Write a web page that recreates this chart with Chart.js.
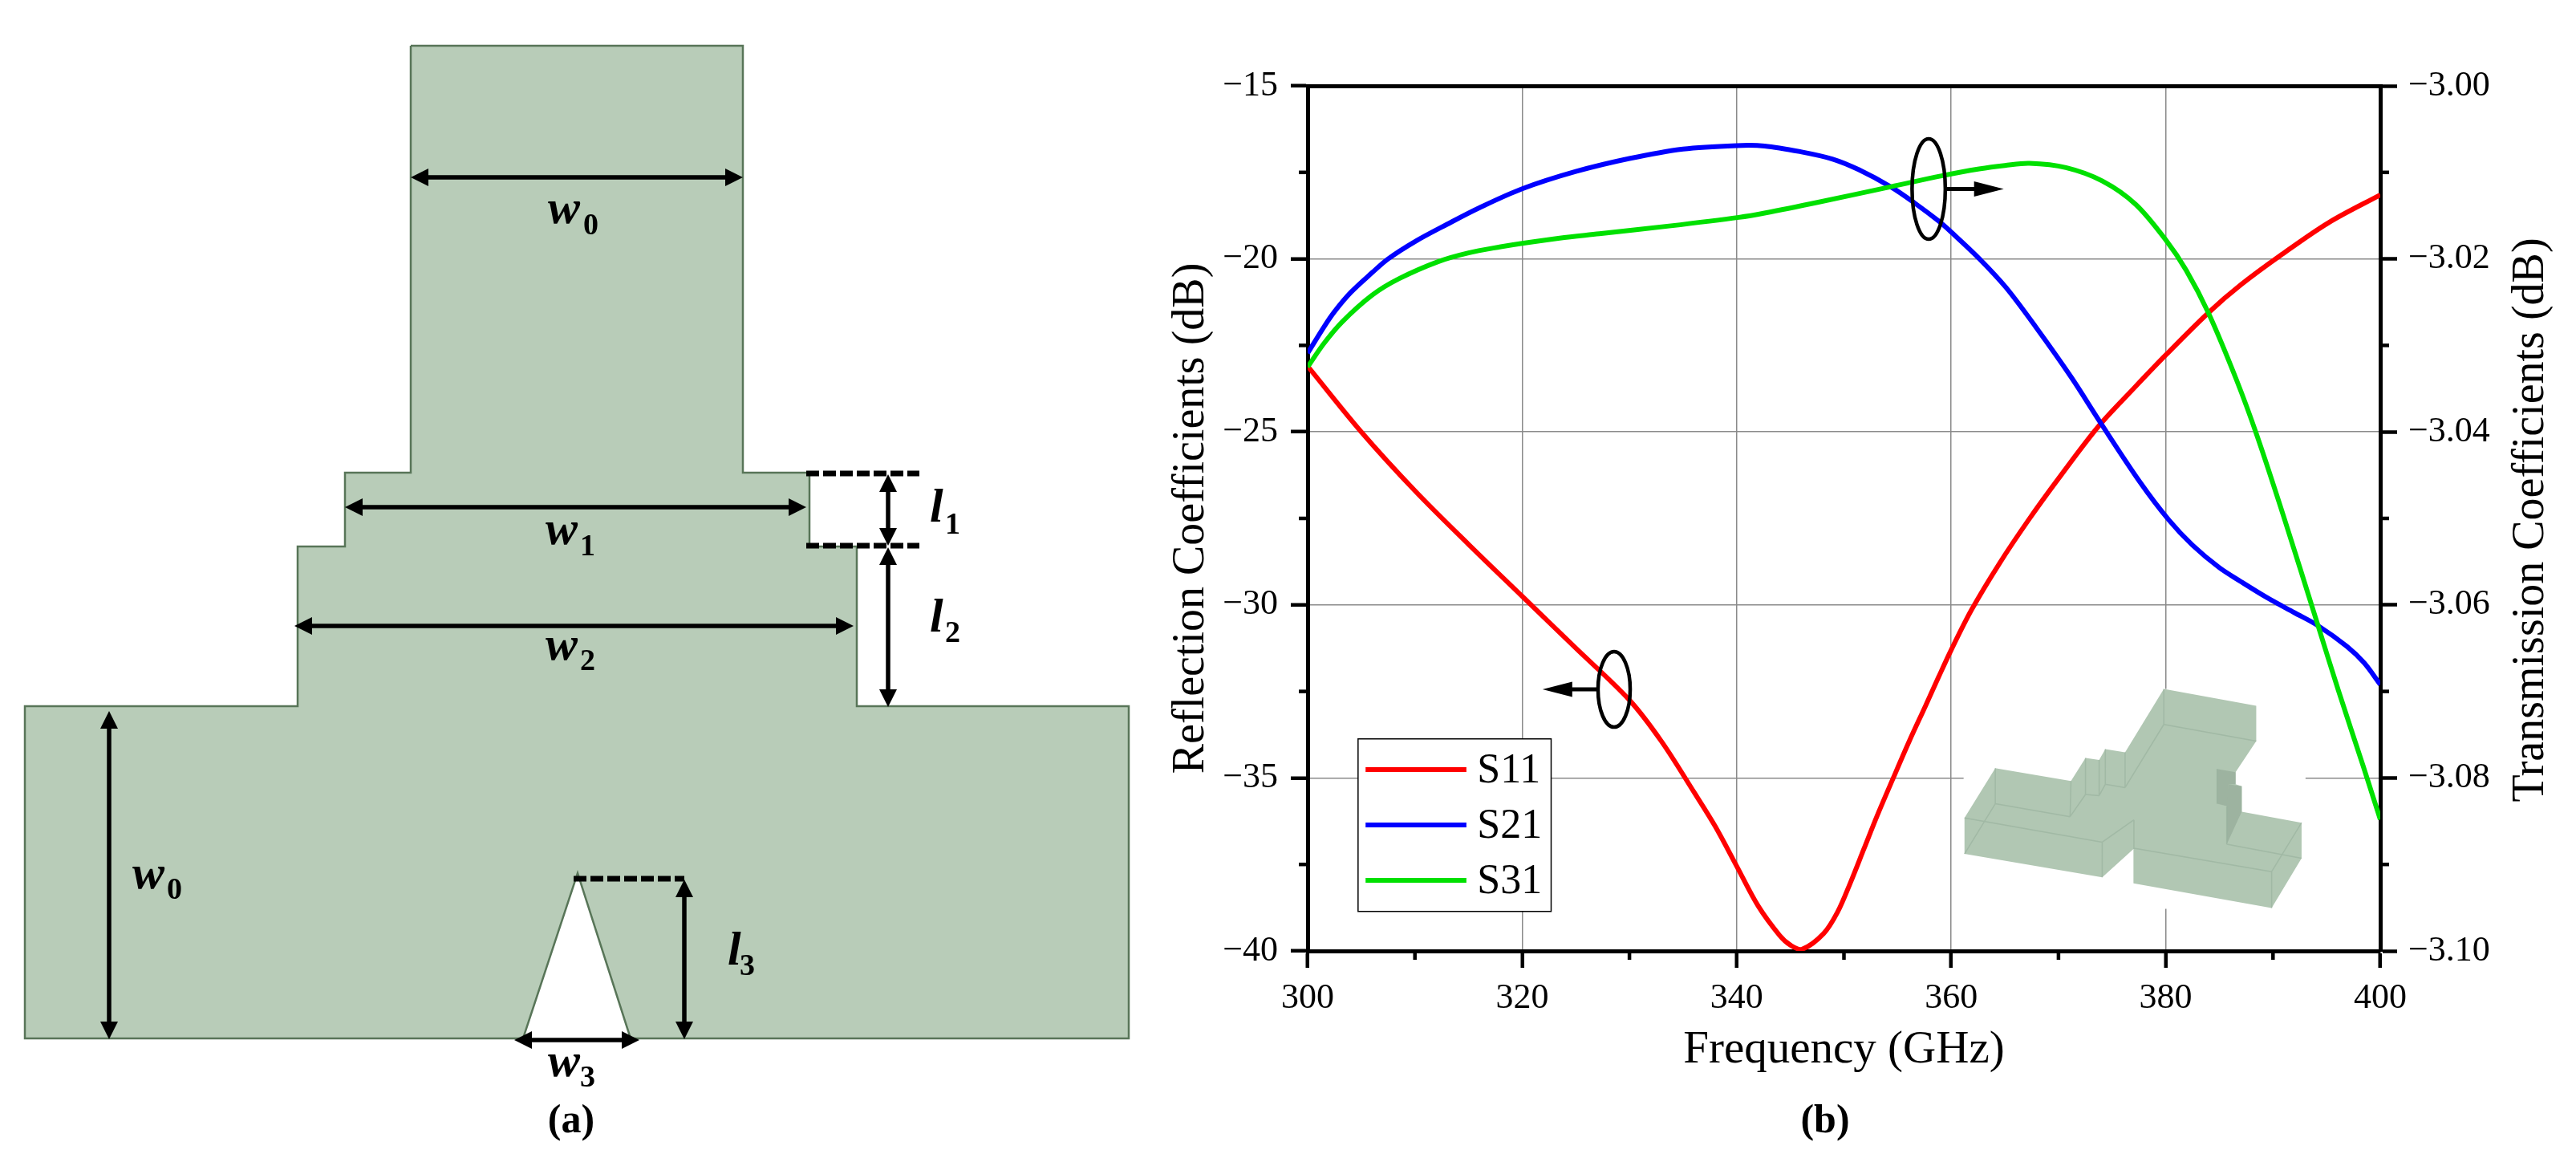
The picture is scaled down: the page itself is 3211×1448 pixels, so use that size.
<!DOCTYPE html>
<html lang="en">
<head>
  <meta charset="UTF-8">
  <title>Reflection and transmission coefficients</title>
  <script src="https://cdn.jsdelivr.net/npm/chart.js"></script>
  <style>
    body { margin: 0; background: #fff; width: 3211px; height: 1448px; overflow: hidden; }
    canvas { position: absolute; top: 0; }
    #diagram { left: 0; }
    #plot { left: 1440px; }
  </style>
</head>
<body>
  <canvas id="diagram" width="1440" height="1448"></canvas>
  <canvas id="plot" width="1771" height="1448"></canvas>

  <script>
    // values
    const freqS11 = [300, 305, 310, 315, 320, 325, 330, 333, 336, 338, 340, 342, 344, 345, 346.1, 348.1, 349.4, 350.6, 351.85, 353.1, 354.6, 356.1, 357.6, 358.8, 360, 361.9, 364.5, 367.2, 370, 373.7, 377, 380, 384, 387, 390.7, 395.2, 400];
    const s11 = [-23.1, -25.0, -26.7, -28.25, -29.75, -31.25, -32.75, -33.95, -35.4, -36.4, -37.55, -38.7, -39.55, -39.83, -39.95, -39.5, -38.88, -38.03, -37.06, -36.09, -35.0, -33.93, -32.92, -32.1, -31.3, -30.14, -28.8, -27.55, -26.35, -24.85, -23.75, -22.78, -21.55, -20.75, -19.9, -18.95, -18.15];

    const freqS21 = [300, 301.5, 302.5, 304, 306, 307.5, 310, 313, 316, 320, 325, 330, 335, 340, 342.6, 345.9, 348.9, 351.4, 354.4, 356.6, 358.8, 360, 362.6, 365.1, 367.9, 371.2, 373.9, 377.6, 380.3, 382.5, 385, 387, 389.5, 392, 394.2, 396.9, 398.5, 400];
    const s21 = [-3.0309, -3.0279, -3.0261, -3.0239, -3.0216, -3.02, -3.018, -3.016, -3.0141, -3.0119, -3.0099, -3.0084, -3.0073, -3.0069, -3.00695, -3.0076, -3.00845, -3.0097, -3.0117, -3.01355, -3.0156, -3.0169, -3.01995, -3.0233, -3.0279, -3.0337, -3.0389, -3.0458, -3.0502, -3.0531, -3.0557, -3.0573, -3.0592, -3.0609, -3.0624, -3.0648, -3.0667, -3.0692];

    const freqS31 = [300, 301.5, 303.2, 306, 308.5, 312.2, 315, 318, 320, 323.5, 327.2, 333.7, 340.2, 342.6, 347.6, 354.4, 359.1, 362.6, 365, 367.3, 370.7, 374.1, 377.2, 380, 381.9, 384, 386.6, 388.5, 391, 394.2, 396.1, 398.4, 400];
    const s31 = [-3.0325, -3.0298, -3.0273, -3.0242, -3.0223, -3.0203, -3.0193, -3.0186, -3.0182, -3.0176, -3.0171, -3.0162, -3.0152, -3.0147, -3.01345, -3.01165, -3.0104, -3.0096, -3.0092, -3.00895, -3.00945, -3.011, -3.0137, -3.0178, -3.0213, -3.0263, -3.034, -3.0404, -3.0498, -3.0624, -3.0699, -3.0786, -3.0848];

    const seriesNames = ['S11', 'S21', 'S31'];
    const seriesColors = ['#ff0000', '#0000ff', '#00e000'];
    const xTitle = 'Frequency (GHz)';
    const yTitle = 'Reflection Coefficients (dB)';
    const y2Title = 'Transmission Coefficients (dB)';

    // panel (a) outline, in drawing units
    const outline = [[512,57],[926,57],[926,589],[1009,589],[1009,681],[1068,681],[1068,880],[1407,880],[1407,1294],[786,1294],[720,1088],[652,1294],[31,1294],[31,880],[371,880],[371,681],[430,681],[430,589],[512,589],[512,57]];
    const dimArrows = [[512,221,926,221],[430,632,1005,632],[367,780,1064,780],[641,1296,797,1296],[1107,591,1107,680],[1107,682,1107,881],[136,886,136,1295],[853,1096,853,1295]];
    const dimDashes = [[1005,590,1146,590],[1005,680,1146,680],[715,1095,853,1095]];
    const dimLabels = [
      ['w','0',683,278,727,292], ['w','1',680,678,723,692], ['w','2',680,822,723,835],
      ['w','0',165,1107,208,1120], ['w','3',683,1341,723,1354],
      ['l','1',1159,650,1178,665], ['l','2',1159,787,1178,800], ['l','3',907,1202,922,1215]
    ];

    // panel (b) inset model, in its own drawing units
    const insetBack = [[178,414],[955,414],[955,958],[178,958],[178,414]];
    const insetBody = [[180,733],[250,610],[422,642],[455,585],[486,590],[500,563],[545,571],[633,414],[843,456],[843,543],[796,620],[796,650],[810,655],[810,718],[946,745],[946,833],[878,956],[564,895],[564,810],[493,880],[180,822],[180,733]];
    const insetDark1 = [[754,612],[796,620],[796,650],[780,650],[780,705],[754,698],[754,612]];
    const insetDark2 = [[780,650],[810,655],[810,718],[776,798],[776,705],[780,650]];
    const insetEdges = [
      [180,733,493,793],[493,793,493,880],[493,793,565,738],[565,738,565,810],[250,610,250,698],[250,698,180,822],[250,698,420,730],
      [422,642,420,730],[420,730,455,675],[455,585,455,675],[486,590,486,678],[455,675,486,678],[486,678,500,650],[500,563,500,650],
      [500,650,545,658],[545,571,545,658],[545,658,633,502],[633,414,633,502],[633,502,843,543],[565,808,878,866],[878,866,878,956],
      [878,866,946,745],[776,798,946,833],[754,612,754,698],[776,705,776,798]
    ];

    const SERIF = '"Liberation Serif", "Times New Roman", serif';
    const pts = arr => arr.map(p => ({ x: p[0], y: p[1] }));
    const zip = (xs, ys) => xs.map((x, i) => ({ x: x, y: ys[i] }));
    const minus = v => String(v).replace('-', '\u2212');

    function drawArrow(ctx, x1, y1, x2, y2, both, len, half, width) {
      const a = Math.atan2(y2 - y1, x2 - x1);
      ctx.save();
      ctx.strokeStyle = '#000'; ctx.fillStyle = '#000'; ctx.lineWidth = width;
      ctx.beginPath();
      ctx.moveTo(x1 + (both ? Math.cos(a) * len * 0.8 : 0), y1 + (both ? Math.sin(a) * len * 0.8 : 0));
      ctx.lineTo(x2 - Math.cos(a) * len * 0.8, y2 - Math.sin(a) * len * 0.8);
      ctx.stroke();
      const head = (x, y, ang) => {
        ctx.save(); ctx.translate(x, y); ctx.rotate(ang);
        ctx.beginPath(); ctx.moveTo(0, 0); ctx.lineTo(-len, -half); ctx.lineTo(-len, half); ctx.closePath(); ctx.fill();
        ctx.restore();
      };
      head(x2, y2, a);
      if (both) head(x1, y1, a + Math.PI);
      ctx.restore();
    }

    // dimension marks and labels on panel (a)
    const diagramMarks = {
      id: 'diagramMarks',
      afterDatasetsDraw(chart) {
        const { ctx, scales: { x, y } } = chart;
        dimDashes.forEach(d => {
          ctx.save();
          ctx.strokeStyle = '#000'; ctx.lineWidth = 7; ctx.setLineDash([16, 5]);
          ctx.beginPath();
          ctx.moveTo(x.getPixelForValue(d[0]), y.getPixelForValue(d[1]));
          ctx.lineTo(x.getPixelForValue(d[2]), y.getPixelForValue(d[3]));
          ctx.stroke();
          ctx.restore();
        });
        dimArrows.forEach(d => {
          drawArrow(ctx, x.getPixelForValue(d[0]), y.getPixelForValue(d[1]), x.getPixelForValue(d[2]), y.getPixelForValue(d[3]), true, 22, 11, 5.5);
        });
        ctx.save();
        ctx.fillStyle = '#000'; ctx.textAlign = 'left'; ctx.textBaseline = 'alphabetic';
        dimLabels.forEach(l => {
          ctx.font = 'italic bold 60px ' + SERIF;
          ctx.fillText(l[0], x.getPixelForValue(l[2]), y.getPixelForValue(l[3]));
          ctx.font = 'bold 38px ' + SERIF;
          ctx.fillText(l[1], x.getPixelForValue(l[4]), y.getPixelForValue(l[5]));
        });
        ctx.font = 'bold 50px ' + SERIF; ctx.textAlign = 'center';
        ctx.fillText('(a)', x.getPixelForValue(712), y.getPixelForValue(1411));
        ctx.restore();
      }
    };

    new Chart(document.getElementById('diagram').getContext('2d'), {
      type: 'scatter',
      data: {
        datasets: [{
          data: pts(outline), showLine: true, fill: 'shape', tension: 0, pointRadius: 0,
          backgroundColor: '#b8ccb8', borderColor: '#587558', borderWidth: 2.5
        }]
      },
      options: {
        responsive: false, animation: false, devicePixelRatio: 1,
        layout: { padding: 0, autoPadding: false },
        plugins: { legend: { display: false }, tooltip: { enabled: false } },
        scales: {
          x: { type: 'linear', display: false, min: 0, max: 1440 },
          y: { type: 'linear', display: false, min: 0, max: 1448, reverse: true }
        }
      },
      plugins: [diagramMarks]
    });

    const isMajorY = v => Math.abs(v / 5 - Math.round(v / 5)) < 1e-6;
    const isMajorY2 = v => Math.abs(v / 0.02 - Math.round(v / 0.02)) < 1e-6;
    const isMajorX = v => v % 20 === 0;

    // chart.js has one tick length per scale, so minor ticks go here
    const minorTicks = {
      id: 'minorTicks',
      afterDraw(chart) {
        const { ctx, chartArea: a, scales: { x, y, y2 } } = chart;
        ctx.save();
        ctx.strokeStyle = '#000'; ctx.lineWidth = 4.5;
        x.ticks.filter(t => !isMajorX(t.value)).forEach(t => {
          const p = x.getPixelForValue(t.value);
          ctx.beginPath(); ctx.moveTo(p, a.bottom); ctx.lineTo(p, a.bottom + 11); ctx.stroke();
        });
        y.ticks.filter(t => !isMajorY(t.value)).forEach(t => {
          const p = y.getPixelForValue(t.value);
          ctx.beginPath(); ctx.moveTo(a.left, p); ctx.lineTo(a.left - 11, p); ctx.stroke();
        });
        y2.ticks.filter(t => !isMajorY2(t.value)).forEach(t => {
          const p = y2.getPixelForValue(t.value);
          ctx.beginPath(); ctx.moveTo(a.right, p); ctx.lineTo(a.right + 11, p); ctx.stroke();
        });
        ctx.restore();
      }
    };

    // legend box, ellipses with arrows, right axis title and caption
    const plotMarks = {
      id: 'plotMarks',
      afterDatasetsDraw(chart) {
        const { ctx, scales: { x, y } } = chart;
        const X = v => x.getPixelForValue(v), Y = v => y.getPixelForValue(v);

        ctx.save();
        ctx.strokeStyle = '#000'; ctx.lineWidth = 4.5;
        [[357.9, -17.98, 1.55, 1.45], [328.57, -32.44, 1.5, 1.09]].forEach(e => {
          ctx.beginPath();
          ctx.ellipse(X(e[0]), Y(e[1]), X(e[0] + e[2]) - X(e[0]), Y(e[1] - e[3]) - Y(e[1]), 0, 0, Math.PI * 2);
          ctx.stroke();
        });
        ctx.restore();
        drawArrow(ctx, X(359.5), Y(-17.98), X(364.9), Y(-17.98), false, 37, 9.5, 5);
        drawArrow(ctx, X(327.08), Y(-32.44), X(321.9), Y(-32.44), false, 37, 9.5, 5);

        ctx.save();
        ctx.fillStyle = '#fff'; ctx.strokeStyle = '#000'; ctx.lineWidth = 1.5;
        ctx.beginPath();
        ctx.rect(X(304.7), Y(-33.87), X(322.7) - X(304.7), Y(-38.86) - Y(-33.87));
        ctx.fill(); ctx.stroke();
        ctx.font = '52px ' + SERIF; ctx.textBaseline = 'middle'; ctx.textAlign = 'left';
        seriesNames.forEach((name, i) => {
          const row = Y(-34.76 - i * 1.6);
          ctx.strokeStyle = seriesColors[i]; ctx.lineWidth = 6;
          ctx.beginPath(); ctx.moveTo(X(305.4), row); ctx.lineTo(X(314.8), row); ctx.stroke();
          ctx.fillStyle = '#000';
          ctx.fillText(name, X(315.8), row + 2);
        });

        ctx.fillStyle = '#000'; ctx.textAlign = 'center'; ctx.textBaseline = 'alphabetic';
        ctx.font = '56px ' + SERIF;
        ctx.translate(3170 - 1440, 648);
        ctx.rotate(-Math.PI / 2);
        ctx.fillText(y2Title, 0, 0);
        ctx.restore();

        ctx.save();
        ctx.fillStyle = '#000'; ctx.textAlign = 'center'; ctx.textBaseline = 'alphabetic';
        ctx.font = 'bold 50px ' + SERIF;
        ctx.fillText('(b)', 2275 - 1440, 1411);
        ctx.restore();
      }
    };

    const insetSet = (data, color, order) => ({
      data: pts(data), xAxisID: 'xi', yAxisID: 'yi', showLine: true, fill: 'shape', tension: 0, pointRadius: 0,
      backgroundColor: color, borderColor: 'rgba(0,0,0,0)', borderWidth: 0, order: order
    });
    const edgePoints = [];
    insetEdges.forEach(e => { edgePoints.push({ x: e[0], y: e[1] }, { x: e[2], y: e[3] }, { x: NaN, y: NaN }); });

    const curve = (xs, ys, i, axis) => ({
      label: seriesNames[i], data: zip(xs, ys), xAxisID: 'x', yAxisID: axis, showLine: true,
      borderColor: seriesColors[i], borderWidth: 6, pointRadius: 0, tension: 0.33, capBezierPoints: false, order: 3 - i
    });

    new Chart(document.getElementById('plot').getContext('2d'), {
      type: 'scatter',
      data: {
        datasets: [
          insetSet(insetBack, '#ffffff', 20),
          insetSet(insetBody, '#b1c7b3', 19),
          insetSet(insetDark1, '#9db3a0', 18),
          insetSet(insetDark2, '#9db3a0', 17),
          { data: edgePoints, xAxisID: 'xi', yAxisID: 'yi', showLine: true, spanGaps: false, pointRadius: 0, tension: 0, borderColor: 'rgba(150,175,155,0.6)', borderWidth: 1.5, order: 16 },
          curve(freqS11, s11, 0, 'y'),
          curve(freqS21, s21, 1, 'y2'),
          curve(freqS31, s31, 2, 'y2')
        ]
      },
      options: {
        responsive: false, animation: false, devicePixelRatio: 1,
        layout: { padding: { left: 12, right: 44, top: 107, bottom: 105 }, autoPadding: false },
        plugins: { legend: { display: false }, tooltip: { enabled: false } },
        scales: {
          x: {
            type: 'linear', position: 'bottom', min: 300, max: 400,
            afterFit: s => { s.height = 158; },
            border: { color: '#000', width: 5 },
            grid: {
              tickLength: 21, tickColor: '#000',
              color: c => (c.tick && isMajorX(c.tick.value) ? '#8a8a8a' : 'rgba(0,0,0,0)'),
              lineWidth: 1.5,
              tickWidth: c => (c.tick && isMajorX(c.tick.value) ? 4.5 : 0)
            },
            ticks: { stepSize: 10, autoSkip: false, maxRotation: 0, padding: 12, color: '#000', font: { family: SERIF, size: 44 }, callback: v => (isMajorX(v) ? String(v) : '') },
            title: { display: true, text: xTitle, color: '#000', padding: 0, font: { family: SERIF, size: 57 } }
          },
          xTop: {
            type: 'linear', position: 'top', min: 300, max: 400,
            afterFit: s => { s.height = 0; },
            border: { color: '#000', width: 5 },
            grid: { display: false, drawTicks: false },
            ticks: { display: false }
          },
          y: {
            type: 'linear', position: 'left', min: -40, max: -15,
            afterFit: s => { s.width = 178; },
            border: { color: '#000', width: 5 },
            grid: {
              tickLength: 21, tickColor: '#000',
              color: c => (c.tick && isMajorY(c.tick.value) ? '#8a8a8a' : 'rgba(0,0,0,0)'),
              lineWidth: 1.5,
              tickWidth: c => (c.tick && isMajorY(c.tick.value) ? 4.5 : 0)
            },
            ticks: { stepSize: 2.5, autoSkip: false, padding: 16, color: '#000', font: { family: SERIF, size: 44 }, callback: v => (isMajorY(v) ? minus(v) : '') },
            title: { display: true, text: yTitle, color: '#000', padding: 0, font: { family: SERIF, size: 56 } }
          },
          y2: {
            type: 'linear', position: 'right', min: -3.1, max: -3.0,
            afterFit: s => { s.width = 200; },
            border: { color: '#000', width: 5 },
            grid: {
              drawOnChartArea: false, tickLength: 21, tickColor: '#000',
              tickWidth: c => (c.tick && isMajorY2(c.tick.value) ? 4.5 : 0)
            },
            ticks: { stepSize: 0.01, autoSkip: false, padding: 14, color: '#000', font: { family: SERIF, size: 44 }, callback: v => (isMajorY2(v) ? minus(v.toFixed(2)) : '') }
          },
          xi: { type: 'linear', display: false, min: -1312.6, max: 1124.8 },
          yi: { type: 'linear', display: false, min: -1076.9, max: 1062, reverse: true }
        }
      },
      plugins: [minorTicks, plotMarks]
    });
  </script>
</body>
</html>
